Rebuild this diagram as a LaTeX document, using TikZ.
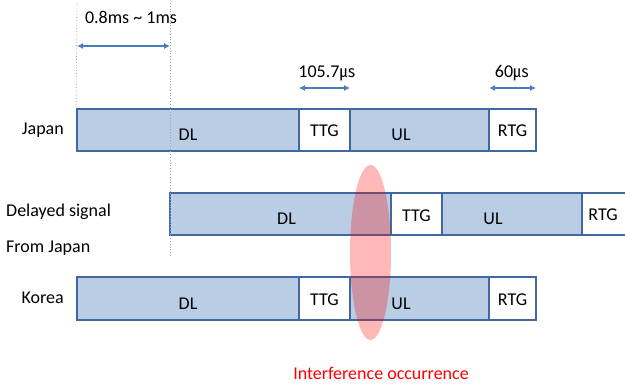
\documentclass[tikz,border=0pt]{standalone}
\usepackage{fontspec}
\setmainfont{Carlito}
\newfontfamily\cjkfont{Noto Sans CJK KR}
\usetikzlibrary{arrows.meta,shapes.geometric}
\definecolor{boxfill}{RGB}{185,205,229}
\definecolor{boxline}{RGB}{65,105,160}
\definecolor{arrowblue}{RGB}{74,126,187}
\definecolor{dotblue}{RGB}{140,172,214}
\newcommand{\usec}{{\cjkfont\fontsize{16}{16}\selectfont ㎲}}
\tikzset{
  seg/.style={draw=boxline, line width=1.8pt, minimum height=42pt, inner sep=0pt, font=\fontsize{18}{18}\selectfont},
  blueseg/.style={seg, fill=boxfill},
  whiteseg/.style={seg, fill=white},
  lbl/.style={font=\fontsize{18}{18}\selectfont, inner sep=0pt},
  dim/.style={draw=arrowblue, line width=1.4pt, {Latex[length=6pt,width=6pt]}-{Latex[length=6pt,width=6pt]}},
  guide/.style={draw=dotblue, line width=0.8pt, dotted},
}
\begin{document}
\begin{tikzpicture}[x=1pt,y=-1pt]
\clip (0,0) rectangle (625,387);
\fill[white] (0,0) rectangle (625,387);

% guides
\coordinate (g1t) at (77,3);
\coordinate (g2t) at (170,3);
\coordinate (g2b) at (170,257);

% Japan row
\node[blueseg, minimum width=222pt, label={[lbl,yshift=-5pt]center:DL}] (jdl) at (188,130) {};
\node[whiteseg, minimum width=51pt, label={[lbl,yshift=-1pt]center:TTG}] (jttg) at (324.5,130) {};
\node[blueseg, minimum width=139pt, label={[lbl,xshift=-18.5pt,yshift=-5pt]center:UL}] (jul) at (419.5,130) {};
\node[whiteseg, minimum width=47pt, label={[lbl,yshift=-1pt]center:RTG}] (jrtg) at (512.5,130) {};

% Delayed row
\node[blueseg, minimum width=221pt, label={[lbl,xshift=6pt,yshift=-5pt]center:DL}] (ddl) at (280.5,214) {};
\node[whiteseg, minimum width=51pt, label={[lbl,yshift=-1.5pt]center:TTG}] (dttg) at (416.5,214) {};
\node[blueseg, minimum width=140pt, label={[lbl,xshift=-19pt,yshift=-5pt]center:UL}] (dul) at (512,214) {};
\node[whiteseg, minimum width=48pt, label={[lbl,xshift=-3pt,yshift=-1pt]center:RTG}] (drtg) at (606,214) {};

% Korea row
\node[blueseg, minimum height=43pt, minimum width=222pt, label={[lbl,yshift=-5pt]center:DL}] (kdl) at (188,298.5) {};
\node[whiteseg, minimum height=43pt, minimum width=51pt, label={[lbl,yshift=-1pt]center:TTG}] (kttg) at (324.5,298.5) {};
\node[blueseg, minimum height=43pt, minimum width=139pt, label={[lbl,xshift=-18.5pt,yshift=-5pt]center:UL}] (kul) at (419.5,298.5) {};
\node[whiteseg, minimum height=43pt, minimum width=47pt, label={[lbl,yshift=-1pt]center:RTG}] (krtg) at (512.5,298.5) {};

% guide lines
\draw[guide] (g1t) -- (jdl.north west);
\draw[guide] (g2t) -- (g2b);

% dimension arrows
\coordinate (a1l) at (77,46);
\coordinate (a1r) at (170,46);
\draw[dim] (a1l) -- (a1r);
\node[lbl] (t1) at (131,17) {0.8ms \textasciitilde{} 1ms};

\coordinate (a2l) at (299,88);
\coordinate (a2r) at (350,88);
\draw[dim] (a2l) -- (a2r);
\node[lbl] (t2) at (327,73) {105.7\usec};

\coordinate (a3l) at (489,88);
\coordinate (a3r) at (536,88);
\draw[dim] (a3l) -- (a3r);
\node[lbl] (t3) at (512,73) {60\usec};

% row labels
\node[lbl, anchor=east] (japan) at (64,130) {Japan};
\node[lbl, anchor=west] (delayed) at (6,212) {Delayed signal};
\node[lbl, anchor=west] (from) at (6,248) {From Japan};
\node[lbl, anchor=east] (korea) at (64,298) {Korea};

% interference ellipse
\node[ellipse, fill=red, fill opacity=0.28, minimum width=41pt, minimum height=175pt, inner sep=0pt] (interf) at (370.5,252.5) {};
\node[lbl, text=red] (itext) at (381,373) {Interference occurrence};
\end{tikzpicture}
\end{document}
